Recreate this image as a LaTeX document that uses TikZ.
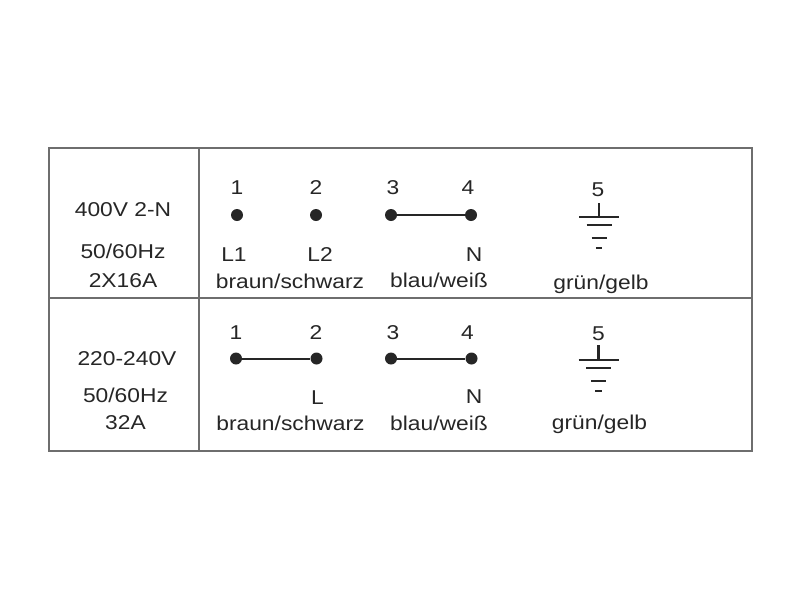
\documentclass[tikz,border=0pt]{standalone}
\usepackage{fontspec}
\setmainfont{Liberation Sans}[FakeStretch=1.14]
\definecolor{framegray}{HTML}{6E6E6E}
\definecolor{inkgray}{HTML}{262626}
\tikzset{
  lbl/.style={anchor=base,inner sep=0pt,text=inkgray,font=\fontsize{15}{18}\selectfont},
  pin/.style={circle,fill=inkgray,inner sep=0pt,minimum size=9pt},
  wire/.style={draw=inkgray,line width=1.5pt},
  earth/.style={draw=inkgray,line width=1.6pt},
}
\begin{document}
\begin{tikzpicture}[x=0.75pt,y=-0.75pt]
    \useasboundingbox (0,0) rectangle (800,600);
    % frame
    \draw[framegray,line width=1.1pt] (49,148) rectangle (752,451);
    \draw[framegray,line width=0.9pt] (49,298) -- (752,298);
    \draw[framegray,line width=0.9pt] (199,148) -- (199,451);
    % row 1
    \node[lbl] (volt1) at (123,216) {400V 2-N};
    \node[lbl] (freq1) at (123,258) {50/60Hz};
    \node[lbl] (amp1) at (123,287) {2X16A};
    \node[lbl] (num11) at (237,194.5) {1};
    \node[lbl] (num12) at (316,194.5) {2};
    \node[lbl] (num13) at (393,194.5) {3};
    \node[lbl] (num14) at (468,194.5) {4};
    \node[lbl] (num15) at (598,196) {5};
    \node[pin] (pin11) at (237,215) {};
    \node[pin] (pin12) at (316,215) {};
    \node[pin] (pin13) at (391,215) {};
    \node[pin] (pin14) at (471,215) {};
    \draw[wire] (pin13) -- (pin14);
    \node[lbl] (lab11) at (234,261.7) {L1};
    \node[lbl] (lab12) at (320,261.7) {L2};
    \node[lbl] (lab14) at (474,261) {N};
    \node[lbl] (col11) at (290,288) {braun/schwarz};
    \node[lbl] (col12) at (439,287) {blau/weiß};
    \node[lbl] (col13) at (601,289) {grün/gelb};
    \begin{scope}[shift={(599,216.7)}]
        \draw[earth] (0,-13.7) -- (0,0);
        \draw[earth] (-20,0) -- (20,0);
        \draw[earth] (-12.5,8.3) -- (12.5,8.3);
        \draw[earth] (-7.5,21.2) -- (7.5,21.2);
        \draw[earth] (-3.2,31.3) -- (3.2,31.3);
    \end{scope}
    % row 2
    \node[lbl] (volt2) at (127,365.7) {220-240V};
    \node[lbl] (freq2) at (125.5,402.7) {50/60Hz};
    \node[lbl] (amp2) at (125.5,429.3) {32A};
    \node[lbl] (num21) at (236,339.3) {1};
    \node[lbl] (num22) at (316,339.3) {2};
    \node[lbl] (num23) at (393,339.3) {3};
    \node[lbl] (num24) at (467.5,339.3) {4};
    \node[lbl] (num25) at (598.5,340.7) {5};
    \node[pin] (pin21) at (236,358.5) {};
    \node[pin] (pin22) at (316.5,358.5) {};
    \node[pin] (pin23) at (391,358.5) {};
    \node[pin] (pin24) at (471.5,358.5) {};
    \draw[wire] (pin21) -- (pin22);
    \draw[wire] (pin23) -- (pin24);
    \node[lbl] (lab22) at (317.5,404.3) {L};
    \node[lbl] (lab24) at (474,403.5) {N};
    \node[lbl] (col21) at (290.5,430) {braun/schwarz};
    \node[lbl] (col22) at (439,430.5) {blau/weiß};
    \node[lbl] (col23) at (599.5,429) {grün/gelb};
    \begin{scope}[shift={(598.5,360)}]
        \draw[earth] (0,-15) -- (0,0);
        \draw[earth] (-20,0) -- (20,0);
        \draw[earth] (-12.5,8.3) -- (12.5,8.3);
        \draw[earth] (-7.5,20.7) -- (7.5,20.7);
        \draw[earth] (-3.2,30.7) -- (3.2,30.7);
    \end{scope}
\end{tikzpicture}
\end{document}
